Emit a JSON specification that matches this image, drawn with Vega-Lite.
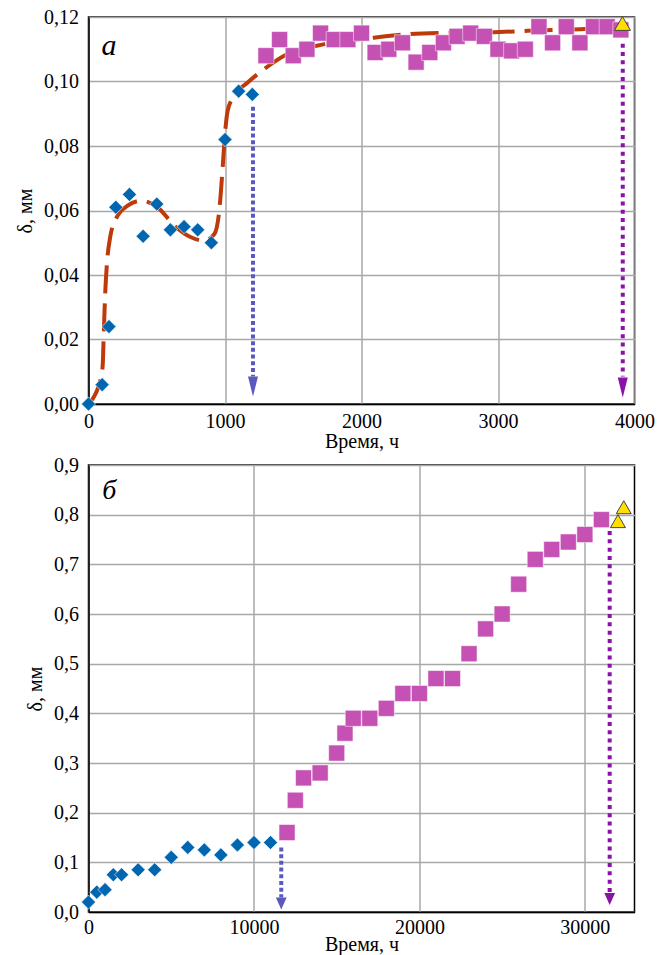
{
  "$schema": "https://vega.github.io/schema/vega-lite/v6.json",
  "background": "white",
  "padding": {"left": 14.5, "top": 6, "right": 5, "bottom": 0},
  "config": {
    "font": "Liberation Serif, Times New Roman, serif",
    "locale": {"number": {"decimal": ",", "thousands": "", "grouping": [3], "currency": ["", ""]}},
    "axis": {"ticks": false, "labelFlush": false, "labelOverlap": false, "labelFontSize": 20, "titleFontSize": 20, "titleFontWeight": "normal", "labelColor": "black", "titleColor": "black", "gridColor": "#A8A8A8", "gridWidth": 1.5, "domainColor": "black", "domainWidth": 1.5, "labelFont": "Liberation Serif, Times New Roman, serif", "titleFont": "Liberation Serif, Times New Roman, serif"},
    "axisY": {"labelPadding": 10, "titlePadding": 8},
    "view": {"stroke": "black", "strokeWidth": 1.5}
  },
  "vconcat": [
    {
      "width": 546, "height": 387,
      "encoding": {
        "x": {"field": "x", "type": "quantitative", "scale": {"domain": [0, 4000], "nice": false}, "axis": {"title": "Время, ч", "values": [0, 1000, 2000, 3000, 4000], "format": "d", "labelPadding": 7, "titlePadding": 0}},
        "y": {"field": "y", "type": "quantitative", "scale": {"domain": [0, 0.12], "nice": false}, "axis": {"title": "δ, мм", "values": [0, 0.02, 0.04, 0.06, 0.08, 0.1, 0.12], "format": ".2f"}}
      },
      "layer": [
        {"data": {"values": [
          {"x": 0, "y": 0}, {"x": 50, "y": 0.003}, {"x": 92, "y": 0.0085}, {"x": 104, "y": 0.012}, {"x": 112, "y": 0.022}, {"x": 122, "y": 0.034}, {"x": 136, "y": 0.044}, {"x": 160, "y": 0.052}, {"x": 201, "y": 0.0574}, {"x": 287, "y": 0.0615}, {"x": 385, "y": 0.063}, {"x": 507, "y": 0.061}, {"x": 629, "y": 0.0553}, {"x": 751, "y": 0.0517}, {"x": 849, "y": 0.0506}, {"x": 922, "y": 0.0527}, {"x": 958, "y": 0.06}, {"x": 983, "y": 0.0734}, {"x": 1000, "y": 0.0838}, {"x": 1020, "y": 0.091}, {"x": 1068, "y": 0.0956}, {"x": 1166, "y": 0.0997}, {"x": 1288, "y": 0.1039}, {"x": 1434, "y": 0.108}, {"x": 1728, "y": 0.1116}, {"x": 2070, "y": 0.1135}, {"x": 2289, "y": 0.1145}, {"x": 2631, "y": 0.1151}, {"x": 2973, "y": 0.1153}, {"x": 3218, "y": 0.1157}, {"x": 3411, "y": 0.116}, {"x": 3632, "y": 0.1163}, {"x": 3850, "y": 0.1168}, {"x": 3910, "y": 0.117}
        ]},
          "mark": {"type": "line", "interpolate": "monotone", "color": "#BE3A0A", "strokeWidth": 4, "strokeDash": [28, 10], "strokeCap": "butt"}},
        {"data": {"values": [{"x": 1205, "y": 0.0922, "y2": 0.0085}]},
          "mark": {"type": "rule", "color": "#5A5ABE", "strokeWidth": 4, "strokeDash": [4, 2.7]},
          "encoding": {"y2": {"field": "y2"}}},
        {"data": {"values": [{"x": 3914, "y": 0.1117, "y2": 0.0085}]},
          "mark": {"type": "rule", "color": "#8A12A8", "strokeWidth": 4, "strokeDash": [4, 4.3]},
          "encoding": {"y2": {"field": "y2"}}},
        {"data": {"values": [{"x": 1205, "y": 0.0054}]},
          "mark": {"type": "point", "shape": "M-0.5,-1L0.5,-1L0,1Z", "size": 400, "filled": true, "color": "#5A5ABE", "opacity": 1}},
        {"data": {"values": [{"x": 3914, "y": 0.0051}]},
          "mark": {"type": "point", "shape": "M-0.5,-1L0.5,-1L0,1Z", "size": 400, "filled": true, "color": "#8A12A8", "opacity": 1}},
        {"data": {"values": [
          {"x": 0, "y": 0}, {"x": 100, "y": 0.006}, {"x": 150, "y": 0.024}, {"x": 200, "y": 0.061}, {"x": 300, "y": 0.065}, {"x": 400, "y": 0.052}, {"x": 500, "y": 0.062}, {"x": 600, "y": 0.054}, {"x": 700, "y": 0.055}, {"x": 800, "y": 0.054}, {"x": 900, "y": 0.05}, {"x": 1000, "y": 0.082}, {"x": 1100, "y": 0.097}, {"x": 1200, "y": 0.096}
        ]},
          "mark": {"type": "point", "shape": "diamond", "size": 200, "filled": true, "color": "#0066B0", "opacity": 1, "stroke": "white", "strokeWidth": 0.6}},
        {"data": {"values": [
          {"x": 1300, "y": 0.108}, {"x": 1400, "y": 0.113}, {"x": 1500, "y": 0.108}, {"x": 1600, "y": 0.11}, {"x": 1700, "y": 0.115}, {"x": 1800, "y": 0.113}, {"x": 1900, "y": 0.113}, {"x": 2000, "y": 0.115}, {"x": 2100, "y": 0.109}, {"x": 2200, "y": 0.11}, {"x": 2300, "y": 0.112}, {"x": 2400, "y": 0.106}, {"x": 2500, "y": 0.109}, {"x": 2600, "y": 0.112}, {"x": 2700, "y": 0.114}, {"x": 2800, "y": 0.115}, {"x": 2900, "y": 0.114}, {"x": 3000, "y": 0.11}, {"x": 3100, "y": 0.1095}, {"x": 3200, "y": 0.11}, {"x": 3300, "y": 0.117}, {"x": 3400, "y": 0.112}, {"x": 3500, "y": 0.117}, {"x": 3600, "y": 0.112}, {"x": 3700, "y": 0.117}, {"x": 3800, "y": 0.117}, {"x": 3900, "y": 0.116}
        ]},
          "mark": {"type": "point", "shape": "square", "size": 256, "filled": true, "color": "#C451B3", "opacity": 1, "stroke": "white", "strokeWidth": 0.5}},
        {"data": {"values": [{"x": 3912, "y": 0.118}]},
          "mark": {"type": "point", "shape": "triangle-up", "size": 256, "filled": true, "color": "#FFE000", "opacity": 1, "stroke": "#444", "strokeWidth": 1}},
        {"data": {"values": [{"x": 150, "y": 0.111, "t": "а"}]},
          "mark": {"type": "text", "font": "Liberation Serif, Times New Roman, serif", "fontStyle": "italic", "fontSize": 30, "color": "black", "baseline": "middle", "align": "center"},
          "encoding": {"text": {"field": "t"}}}
      ]
    },
    {
      "width": 546, "height": 447,
      "encoding": {
        "x": {"field": "x", "type": "quantitative", "scale": {"domain": [0, 33000], "nice": false}, "axis": {"title": "Время, ч", "values": [0, 10000, 20000, 30000], "format": "d", "labelPadding": 5, "titlePadding": -3}},
        "y": {"field": "y", "type": "quantitative", "scale": {"domain": [0, 0.9], "nice": false}, "axis": {"title": "δ, мм", "values": [0, 0.1, 0.2, 0.3, 0.4, 0.5, 0.6, 0.7, 0.8, 0.9], "format": ".1f"}}
      },
      "layer": [
        {"data": {"values": [{"x": 11650, "y": 0.13, "y2": 0.029}]},
          "mark": {"type": "rule", "color": "#5A5ABE", "strokeWidth": 4, "strokeDash": [4, 2.7]},
          "encoding": {"y2": {"field": "y2"}}},
        {"data": {"values": [{"x": 31500, "y": 0.767, "y2": 0.039}]},
          "mark": {"type": "rule", "color": "#8A12A8", "strokeWidth": 4, "strokeDash": [4, 4.3]},
          "encoding": {"y2": {"field": "y2"}}},
        {"data": {"values": [{"x": 11650, "y": 0.017}]},
          "mark": {"type": "point", "shape": "M-0.9,-1L0.9,-1L0,1Z", "size": 144, "filled": true, "color": "#5A5ABE", "opacity": 1}},
        {"data": {"values": [{"x": 31500, "y": 0.026}]},
          "mark": {"type": "point", "shape": "M-0.9,-1L0.9,-1L0,1Z", "size": 144, "filled": true, "color": "#8A12A8", "opacity": 1}},
        {"data": {"values": [
          {"x": 0, "y": 0.02}, {"x": 500, "y": 0.04}, {"x": 1000, "y": 0.045}, {"x": 1500, "y": 0.075}, {"x": 2000, "y": 0.075}, {"x": 3000, "y": 0.085}, {"x": 4000, "y": 0.085}, {"x": 5000, "y": 0.11}, {"x": 6000, "y": 0.13}, {"x": 7000, "y": 0.125}, {"x": 8000, "y": 0.115}, {"x": 9000, "y": 0.135}, {"x": 10000, "y": 0.14}, {"x": 11000, "y": 0.14}
        ]},
          "mark": {"type": "point", "shape": "diamond", "size": 200, "filled": true, "color": "#0066B0", "opacity": 1, "stroke": "white", "strokeWidth": 0.6}},
        {"data": {"values": [
          {"x": 12000, "y": 0.16}, {"x": 12500, "y": 0.225}, {"x": 13000, "y": 0.27}, {"x": 14000, "y": 0.28}, {"x": 15000, "y": 0.32}, {"x": 15500, "y": 0.36}, {"x": 16000, "y": 0.39}, {"x": 17000, "y": 0.39}, {"x": 18000, "y": 0.41}, {"x": 19000, "y": 0.44}, {"x": 20000, "y": 0.44}, {"x": 21000, "y": 0.47}, {"x": 22000, "y": 0.47}, {"x": 23000, "y": 0.52}, {"x": 24000, "y": 0.57}, {"x": 25000, "y": 0.6}, {"x": 26000, "y": 0.66}, {"x": 27000, "y": 0.71}, {"x": 28000, "y": 0.73}, {"x": 29000, "y": 0.745}, {"x": 30000, "y": 0.76}, {"x": 31000, "y": 0.79}
        ]},
          "mark": {"type": "point", "shape": "square", "size": 256, "filled": true, "color": "#C451B3", "opacity": 1, "stroke": "white", "strokeWidth": 0.5}},
        {"data": {"values": [{"x": 32000, "y": 0.787}, {"x": 32350, "y": 0.815}]},
          "mark": {"type": "point", "shape": "triangle-up", "size": 225, "filled": true, "color": "#FFE000", "opacity": 1, "stroke": "#444", "strokeWidth": 1}},
        {"data": {"values": [{"x": 1250, "y": 0.848, "t": "б"}]},
          "mark": {"type": "text", "font": "Liberation Serif, Times New Roman, serif", "fontStyle": "italic", "fontSize": 28, "color": "black", "baseline": "middle", "align": "center"},
          "encoding": {"text": {"field": "t"}}}
      ]
    }
  ],
  "spacing": 61,
  "bounds": "flush"
}
